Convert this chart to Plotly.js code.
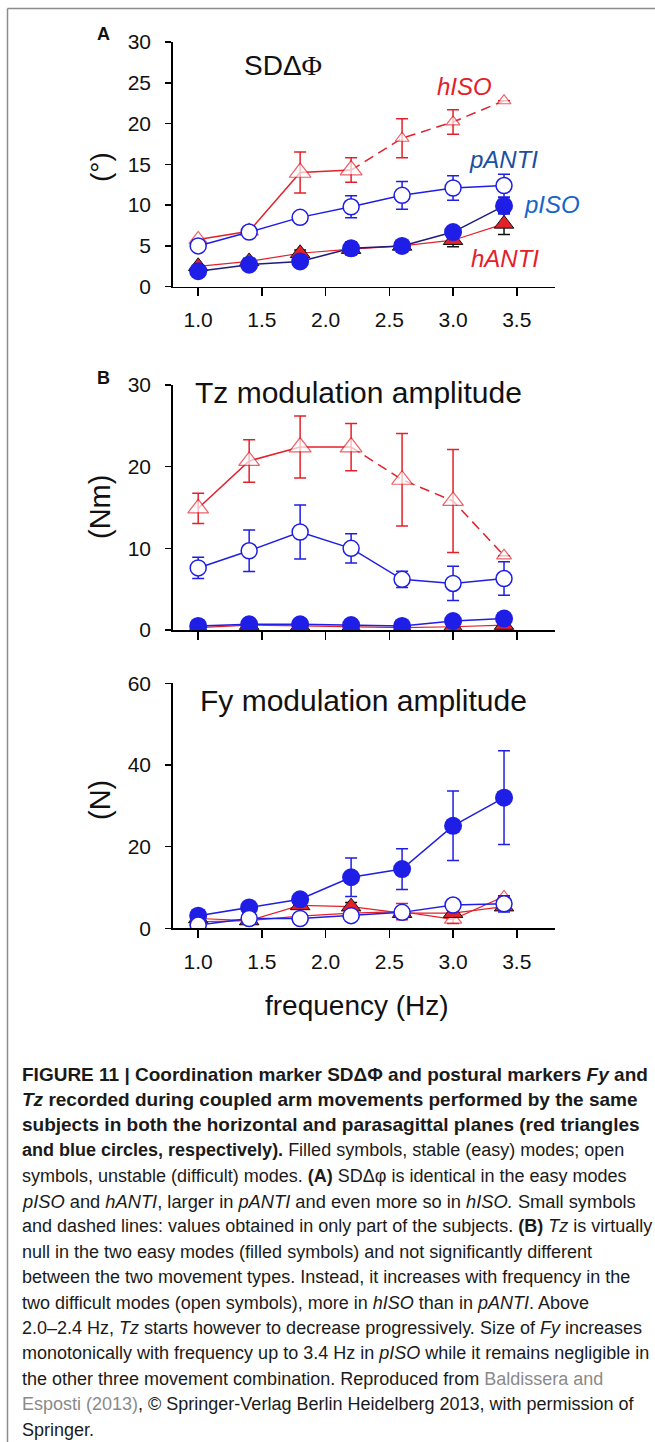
<!DOCTYPE html>
<html>
<head>
<meta charset="utf-8">
<script src="https://cdn.plot.ly/plotly-3.0.1.min.js"></script>
<style>
html,body{margin:0;padding:0;background:#fff;}
#chart{width:655px;height:1442px;}
</style>
</head>
<body>
<div id="chart"></div>
<script>
// ---------- data ----------
const freq = [1.0, 1.4, 1.8, 2.2, 2.6, 3.0, 3.4];
const xTickVals = [1.0, 1.5, 2.0, 2.5, 3.0, 3.5];
const xTickText = ["1.0", "1.5", "2.0", "2.5", "3.0", "3.5"];

// Panel A: SD delta phi (deg)
const A_hISO = [5.8, 6.8, 14.0, 14.3, 18.2, 20.2, 22.8];
const A_hISO_err = [null, null, 2.5, 1.5, 2.4, 1.5, null];
const A_pANTI = [5.0, 6.7, 8.5, 9.8, 11.2, 12.1, 12.4];
const A_pANTI_err = [null, null, 0.6, 1.35, 1.7, 1.5, 1.4];
const A_pISO = [1.9, 2.7, 3.1, 4.7, 5.0, 6.7, 9.9];
const A_pISO_err = [null, null, null, 0.8, null, 0.5, 1.0];
const A_hANTI = [2.5, 3.1, 4.1, 4.6, 5.0, 5.7, 7.7];
const A_hANTI_err = [null, 0.4, 0.4, 0.3, 0.3, 0.8, 1.3];
const A_yTicks = [0, 5, 10, 15, 20, 25, 30];

// Panel B: Tz modulation amplitude (Nm)
const B_hISO = [14.9, 20.7, 22.4, 22.4, 18.4, 15.8, 9.1];
const B_hISO_err = [1.85, 2.6, 3.8, 2.9, 5.65, 6.3, null];
const B_pANTI = [7.6, 9.7, 12.0, 10.0, 6.2, 5.7, 6.3];
const B_pANTI_err = [1.3, 2.55, 3.3, 1.8, 1.0, 2.1, 2.05];
const B_pISO = [0.5, 0.7, 0.7, 0.6, 0.5, 1.1, 1.4];
const B_hANTI = [0.3, 0.6, 0.5, 0.4, 0.3, 0.4, 0.6];
const B_yTicks = [0, 10, 20, 30];

// Panel C: Fy modulation amplitude (N)
const C_pISO = [3.1, 5.1, 7.1, 12.5, 14.5, 25.1, 32.0];
const C_pISO_err = [null, null, null, 4.7, 5.0, 8.5, 11.5];
const C_pANTI = [0.8, 2.4, 2.4, 3.1, 3.9, 5.7, 6.0];
const C_pANTI_err = [null, null, null, null, null, null, 2.0];
const C_hISO = [1.6, 1.9, 3.0, 3.7, 4.1, 2.2, 7.8];
const C_hISO_err = [null, null, null, null, 2.0, 1.0, null];
const C_hANTI = [2.4, 1.9, 5.6, 5.3, 3.7, 3.7, 5.3];
const C_hANTI_err = [null, 0.5, 0.5, 1.0, null, null, null];
const C_yTicks = [0, 20, 40, 60];

// ---------- styles ----------
const RED = '#e4202a';
const BLUE = '#1e1ee6';
const NAVY = '#1c1c7a';
const PX = v => v / 655;
const PY = v => 1 - v / 1442;

const traces = [];
function errObj(arr, color) {
  return {type: 'data', array: arr, visible: true, color: color, thickness: 1.5, width: 6};
}
function addPanel(ax, d) {
  const xa = ax === 1 ? 'x' : 'x' + ax;
  const ya = ax === 1 ? 'y' : 'y' + ax;
  if (d.hISOdashFrom != null) {
    const k = d.hISOdashFrom;
    traces.push({x: freq.slice(0, k + 1), y: d.hISO.slice(0, k + 1), xaxis: xa, yaxis: ya, mode: 'lines',
      line: {color: RED, width: 1.5}});
    traces.push({x: freq.slice(k), y: d.hISO.slice(k), xaxis: xa, yaxis: ya, mode: 'lines',
      line: {color: RED, width: 1.5, dash: '10px,6px'}});
  } else {
    traces.push({x: freq, y: d.hISO, xaxis: xa, yaxis: ya, mode: 'lines', line: {color: RED, width: 1.2}});
  }
  traces.push({x: freq, y: d.hISO, xaxis: xa, yaxis: ya, mode: 'markers',
    error_y: errObj(d.hISOerr, RED),
    marker: {symbol: 'triangle-up', size: d.hISOsize, color: '#ffffff', line: {color: RED, width: 1.2}}});
  traces.push({x: freq, y: d.hANTI, xaxis: xa, yaxis: ya, mode: 'lines+markers',
    line: {color: RED, width: 1.2},
    error_y: errObj(d.hANTIerr, '#111'),
    marker: {symbol: 'triangle-up', size: 17, color: RED, line: {color: '#111', width: 1}}});
  traces.push({x: freq, y: d.pISO, xaxis: xa, yaxis: ya, mode: 'lines+markers',
    line: {color: d.pISOline, width: 1.5},
    error_y: errObj(d.pISOerr, BLUE),
    marker: {symbol: 'circle', size: 18, color: BLUE, line: {color: BLUE, width: 0}}});
  traces.push({x: freq, y: d.pANTI, xaxis: xa, yaxis: ya, mode: 'lines+markers',
    line: {color: BLUE, width: 1.5},
    error_y: errObj(d.pANTIerr, BLUE),
    marker: {symbol: 'circle', size: 16, color: '#ffffff', line: {color: BLUE, width: 1.5}}});
}
const nulls = freq.map(() => null);
addPanel(1, {hISO: A_hISO, hISOerr: A_hISO_err, hISOdashFrom: 3, hISOsize: [16, 16, 19, 19, 12, 12, 12],
  hANTI: A_hANTI, hANTIerr: A_hANTI_err, pISO: A_pISO, pISOerr: A_pISO_err, pISOline: NAVY,
  pANTI: A_pANTI, pANTIerr: A_pANTI_err});
addPanel(2, {hISO: B_hISO, hISOerr: B_hISO_err, hISOdashFrom: 3, hISOsize: [18, 18, 19, 19, 18, 18, 13],
  hANTI: B_hANTI, hANTIerr: nulls, pISO: B_pISO, pISOerr: nulls, pISOline: BLUE,
  pANTI: B_pANTI, pANTIerr: B_pANTI_err});
addPanel(3, {hISO: C_hISO, hISOerr: C_hISO_err, hISOdashFrom: null, hISOsize: [15, 15, 15, 15, 15, 15, 12],
  hANTI: C_hANTI, hANTIerr: C_hANTI_err, pISO: C_pISO, pISOerr: C_pISO_err, pISOline: BLUE,
  pANTI: C_pANTI, pANTIerr: C_pANTI_err});

const FONT = 'Liberation Sans, Arial, sans-serif';
const xDom = [PX(172.7), PX(555)];
function xaxis(anchor, labels) {
  return {anchor: anchor, domain: xDom, range: [0.8, 3.8], tickvals: xTickVals, ticktext: xTickText,
    showticklabels: labels, showline: true, linecolor: '#000', linewidth: 1.5, ticks: 'outside',
    ticklen: 8, tickwidth: 1.5, tickcolor: '#000', showgrid: false, zeroline: false,
    tickfont: {family: FONT, size: 21, color: '#111'}, ticklabelstandoff: 6};
}
function yaxis(anchor, dom, range, ticks) {
  return {anchor: anchor, domain: dom, range: range, tickvals: ticks, showline: true, linecolor: '#000',
    linewidth: 1.5, ticks: 'outside', ticklen: 6, tickwidth: 1.5, tickcolor: '#000', showgrid: false,
    zeroline: false, tickfont: {family: FONT, size: 21, color: '#111'}, ticklabelstandoff: 10};
}

const ann = [];
function txt(x, y, text, size, opts) {
  ann.push(Object.assign({xref: 'paper', yref: 'paper', x: PX(x), y: PY(y), text: text, showarrow: false,
    xanchor: 'center', yanchor: 'middle', font: {family: FONT, size: size, color: '#111'}}, opts || {}));
}
txt(103.5, 34, '<b>A</b>', 18);
txt(103.5, 378, '<b>B</b>', 18);
txt(283, 66, 'SDΔ<span style="font-family:Liberation Serif">Φ</span>', 28);
txt(358, 392, 'Tz modulation amplitude', 30);
txt(363, 700, 'Fy modulation amplitude', 30);
txt(464, 87, '<i>hISO</i>', 24, {font: {family: FONT, size: 24, color: RED}});
txt(503, 160, '<i>pANTI</i>', 24, {font: {family: FONT, size: 24, color: '#1a4fa3'}});
txt(552, 205, '<i>pISO</i>', 24, {font: {family: FONT, size: 24, color: '#1565c8'}});
txt(505, 258, '<i>hANTI</i>', 24, {font: {family: FONT, size: 24, color: RED}});
txt(101, 167, '(°)', 28, {textangle: -90});
txt(100, 507, '(Nm)', 29, {textangle: -90});
txt(100, 800, '(N)', 29, {textangle: -90});
txt(357, 1005, 'frequency (Hz)', 28);

// caption
const capLines = [
  '<b>FIGURE 11 | Coordination marker SDΔΦ and postural markers <i>Fy</i> and</b>',
  '<b><i>Tz</i> recorded during coupled arm movements performed by the same</b>',
  '<b>subjects in both the horizontal and parasagittal planes (red triangles</b>',
  '<b>and blue circles, respectively).</b> Filled symbols, stable (easy) modes; open',
  'symbols, unstable (difficult) modes. <b>(A)</b> SDΔφ is identical in the easy modes',
  '<i>pISO</i> and <i>hANTI</i>, larger in <i>pANTI</i> and even more so in <i>hISO.</i> Small symbols',
  'and dashed lines: values obtained in only part of the subjects. <b>(B)</b> <i>Tz</i> is virtually',
  'null in the two easy modes (filled symbols) and not significantly different',
  'between the two movement types. Instead, it increases with frequency in the',
  'two difficult modes (open symbols), more in <i>hISO</i> than in <i>pANTI</i>. Above',
  '2.0–2.4 Hz, <i>Tz</i> starts however to decrease progressively. Size of <i>Fy</i> increases',
  'monotonically with frequency up to 3.4 Hz in <i>pISO</i> while it remains negligible in',
  'the other three movement combination. Reproduced from <span style="color:#8a8a8a">Baldissera and</span>',
  '<span style="color:#8a8a8a">Esposti (2013)</span>, © Springer-Verlag Berlin Heidelberg 2013, with permission of',
  'Springer.'
];
const capSizes = [19, 19, 19, 18, 18, 18.3, 18, 18, 18, 18, 18, 18, 18, 18, 18];
capLines.forEach((s, i) => {
  ann.push({xref: 'paper', yref: 'paper', x: PX(20), y: PY(1074 + i * 25.4), text: s, showarrow: false,
    xanchor: 'left', yanchor: 'middle', align: 'left', font: {family: FONT, size: capSizes[i], color: '#1a1a1a'}});
});

const layout = {
  width: 655, height: 1442, margin: {l: 0, r: 0, t: 0, b: 0},
  paper_bgcolor: '#fff', plot_bgcolor: 'rgba(0,0,0,0)', showlegend: false, hovermode: false,
  xaxis: xaxis('y', true), xaxis2: xaxis('y2', false), xaxis3: xaxis('y3', true),
  yaxis: yaxis('x', [PY(286.7), PY(42)], [0, 30], A_yTicks),
  yaxis2: yaxis('x2', [PY(630), PY(385)], [0, 30], B_yTicks),
  yaxis3: yaxis('x3', [PY(928.3), PY(683.3)], [0, 60], C_yTicks),
  annotations: ann,
  shapes: [
    {type: 'line', xref: 'paper', yref: 'paper', x0: PX(7.5), x1: 1, y0: PY(8.5), y1: PY(8.5), line: {color: '#8c8c8c', width: 1.5}},
    {type: 'line', xref: 'paper', yref: 'paper', x0: PX(7.5), x1: PX(7.5), y0: PY(8.5), y1: 0, line: {color: '#8c8c8c', width: 1.5}}
  ]
};
Plotly.newPlot('chart', traces, layout, {staticPlot: true, displayModeBar: false});
</script>
</body>
</html>
